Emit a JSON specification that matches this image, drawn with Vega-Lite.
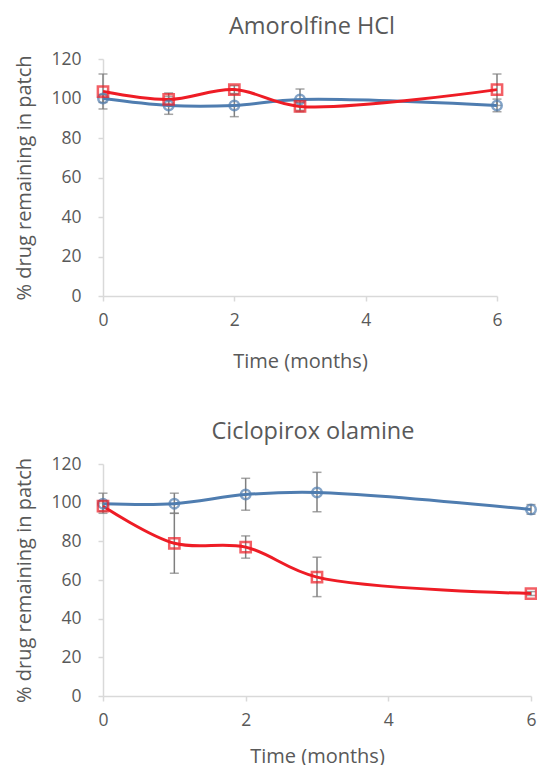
{
  "$schema": "https://vega.github.io/schema/vega-lite/v6.json",
  "padding": {"left": 14, "top": 14, "right": 0, "bottom": 0},
  "background": "white",
  "spacing": 47,
  "datasets": {
    "pts": [
      {"drug": "Amorolfine HCl", "series": "A", "t": 0, "y": 100.0, "lo": 98.0, "hi": 102.0},
      {"drug": "Amorolfine HCl", "series": "A", "t": 1, "y": 96.5, "lo": 92.0, "hi": 101.0},
      {"drug": "Amorolfine HCl", "series": "A", "t": 2, "y": 96.5, "lo": 90.8, "hi": 102.2},
      {"drug": "Amorolfine HCl", "series": "A", "t": 3, "y": 99.5, "lo": 93.3, "hi": 104.8},
      {"drug": "Amorolfine HCl", "series": "A", "t": 6, "y": 96.5, "lo": 93.3, "hi": 99.7},
      {"drug": "Amorolfine HCl", "series": "B", "t": 0, "y": 103.5, "lo": 94.7, "hi": 112.4},
      {"drug": "Amorolfine HCl", "series": "B", "t": 1, "y": 99.5, "lo": 96.5, "hi": 102.8},
      {"drug": "Amorolfine HCl", "series": "B", "t": 2, "y": 104.5, "lo": 102.5, "hi": 106.5},
      {"drug": "Amorolfine HCl", "series": "B", "t": 3, "y": 96.0, "lo": 94.0, "hi": 98.0},
      {"drug": "Amorolfine HCl", "series": "B", "t": 6, "y": 104.5, "lo": 96.5, "hi": 112.4},
      {"drug": "Ciclopirox olamine", "series": "A", "t": 0, "y": 99.5, "lo": 94.5, "hi": 104.9},
      {"drug": "Ciclopirox olamine", "series": "A", "t": 1, "y": 99.5, "lo": 94.5, "hi": 104.9},
      {"drug": "Ciclopirox olamine", "series": "A", "t": 2, "y": 104.2, "lo": 96.1, "hi": 112.6},
      {"drug": "Ciclopirox olamine", "series": "A", "t": 3, "y": 105.3, "lo": 95.3, "hi": 115.7},
      {"drug": "Ciclopirox olamine", "series": "A", "t": 6, "y": 96.5, "lo": 94.0, "hi": 99.0},
      {"drug": "Ciclopirox olamine", "series": "B", "t": 0, "y": 98.2, "lo": 95.5, "hi": 101.0},
      {"drug": "Ciclopirox olamine", "series": "B", "t": 1, "y": 79.0, "lo": 63.5, "hi": 94.5},
      {"drug": "Ciclopirox olamine", "series": "B", "t": 2, "y": 77.0, "lo": 71.3, "hi": 82.8},
      {"drug": "Ciclopirox olamine", "series": "B", "t": 3, "y": 61.5, "lo": 51.4, "hi": 71.8},
      {"drug": "Ciclopirox olamine", "series": "B", "t": 6, "y": 53.0, "lo": 52.0, "hi": 54.0}
    ]
  },
  "vconcat": [
    {
      "title": {"text": "Amorolfine HCl", "dx": 12},
      "width": 394,
      "height": 237,
      "data": {"name": "pts"},
      "transform": [{"filter": "datum.drug === 'Amorolfine HCl'"}],
      "encoding": {
        "x": {"field": "t", "type": "quantitative", "scale": {"domain": [0, 6], "nice": false}, "axis": {"values": [0, 2, 4, 6], "title": "Time (months)"}},
        "color": {"field": "series", "type": "nominal", "scale": {"domain": ["A", "B"], "range": ["#4f7db0", "#ee1c25"]}, "legend": null}
      },
      "layer": [
        {"mark": {"type": "rule", "color": "#7f7f7f", "strokeWidth": 1.5}, "encoding": {"y": {"field": "lo", "type": "quantitative", "scale": {"domain": [0, 120], "nice": false}, "axis": {"values": [0, 20, 40, 60, 80, 100, 120], "title": "% drug remaining in patch"}}, "y2": {"field": "hi"}, "color": {"value": "#7f7f7f"}}},
        {"mark": {"type": "tick", "orient": "horizontal", "color": "#7f7f7f", "size": 9, "thickness": 1.5}, "encoding": {"y": {"field": "lo", "type": "quantitative", "scale": {"domain": [0, 120], "nice": false}, "axis": {"values": [0, 20, 40, 60, 80, 100, 120], "title": "% drug remaining in patch"}}, "color": {"value": "#7f7f7f"}}},
        {"mark": {"type": "tick", "orient": "horizontal", "color": "#7f7f7f", "size": 9, "thickness": 1.5}, "encoding": {"y": {"field": "hi", "type": "quantitative", "scale": {"domain": [0, 120], "nice": false}, "axis": {"values": [0, 20, 40, 60, 80, 100, 120], "title": "% drug remaining in patch"}}, "color": {"value": "#7f7f7f"}}},
        {"mark": {"type": "line", "interpolate": "catmull-rom", "strokeWidth": 3}, "encoding": {"y": {"field": "y", "type": "quantitative", "scale": {"domain": [0, 120], "nice": false}, "axis": {"values": [0, 20, 40, 60, 80, 100, 120], "title": "% drug remaining in patch"}}}},
        {"mark": {"type": "point", "shape": "circle", "filled": false, "strokeWidth": 2.5, "size": 90}, "transform": [{"filter": "datum.series === 'A'"}], "encoding": {"y": {"field": "y", "type": "quantitative", "scale": {"domain": [0, 120], "nice": false}, "axis": {"values": [0, 20, 40, 60, 80, 100, 120], "title": "% drug remaining in patch"}}}},
        {"mark": {"type": "point", "shape": "square", "filled": false, "strokeWidth": 2.5, "size": 105}, "transform": [{"filter": "datum.series === 'B'"}], "encoding": {"y": {"field": "y", "type": "quantitative", "scale": {"domain": [0, 120], "nice": false}, "axis": {"values": [0, 20, 40, 60, 80, 100, 120], "title": "% drug remaining in patch"}}}}
      ]
    },
    {
      "title": {"text": "Ciclopirox olamine", "dx": -4},
      "width": 428,
      "height": 232,
      "data": {"name": "pts"},
      "transform": [{"filter": "datum.drug === 'Ciclopirox olamine'"}],
      "encoding": {
        "x": {"field": "t", "type": "quantitative", "scale": {"domain": [0, 6], "nice": false}, "axis": {"values": [0, 2, 4, 6], "title": "Time (months)", "titlePadding": 18}},
        "color": {"field": "series", "type": "nominal", "scale": {"domain": ["A", "B"], "range": ["#4f7db0", "#ee1c25"]}, "legend": null}
      },
      "layer": [
        {"mark": {"type": "rule", "color": "#7f7f7f", "strokeWidth": 1.5}, "encoding": {"y": {"field": "lo", "type": "quantitative", "scale": {"domain": [0, 120], "nice": false}, "axis": {"values": [0, 20, 40, 60, 80, 100, 120], "title": "% drug remaining in patch"}}, "y2": {"field": "hi"}, "color": {"value": "#7f7f7f"}}},
        {"mark": {"type": "tick", "orient": "horizontal", "color": "#7f7f7f", "size": 9, "thickness": 1.5}, "encoding": {"y": {"field": "lo", "type": "quantitative", "scale": {"domain": [0, 120], "nice": false}, "axis": {"values": [0, 20, 40, 60, 80, 100, 120], "title": "% drug remaining in patch"}}, "color": {"value": "#7f7f7f"}}},
        {"mark": {"type": "tick", "orient": "horizontal", "color": "#7f7f7f", "size": 9, "thickness": 1.5}, "encoding": {"y": {"field": "hi", "type": "quantitative", "scale": {"domain": [0, 120], "nice": false}, "axis": {"values": [0, 20, 40, 60, 80, 100, 120], "title": "% drug remaining in patch"}}, "color": {"value": "#7f7f7f"}}},
        {"mark": {"type": "line", "interpolate": "catmull-rom", "strokeWidth": 3}, "encoding": {"y": {"field": "y", "type": "quantitative", "scale": {"domain": [0, 120], "nice": false}, "axis": {"values": [0, 20, 40, 60, 80, 100, 120], "title": "% drug remaining in patch"}}}},
        {"mark": {"type": "point", "shape": "circle", "filled": false, "strokeWidth": 2.5, "size": 90}, "transform": [{"filter": "datum.series === 'A'"}], "encoding": {"y": {"field": "y", "type": "quantitative", "scale": {"domain": [0, 120], "nice": false}, "axis": {"values": [0, 20, 40, 60, 80, 100, 120], "title": "% drug remaining in patch"}}}},
        {"mark": {"type": "point", "shape": "square", "filled": false, "strokeWidth": 2.5, "size": 105}, "transform": [{"filter": "datum.series === 'B'"}], "encoding": {"y": {"field": "y", "type": "quantitative", "scale": {"domain": [0, 120], "nice": false}, "axis": {"values": [0, 20, 40, 60, 80, 100, 120], "title": "% drug remaining in patch"}}}}
      ]
    }
  ],
  "config": {
    "view": {"stroke": null},
    "font": "Open Sans",
    "axis": {
      "grid": false,
      "domainColor": "#d9d9d9",
      "domainWidth": 1.5,
      "tickColor": "#d9d9d9",
      "tickWidth": 1.5,
      "tickSize": 5,
      "labelColor": "#595959",
      "titleColor": "#595959",
      "labelFont": "Open Sans",
      "titleFont": "Open Sans",
      "labelFontSize": 17.5,
      "titleFontSize": 20,
      "titleFontWeight": "normal",
      "labelOverlap": false,
      "labelFlush": false
    },
    "axisY": {"labelPadding": 17, "titlePadding": 16},
    "axisX": {"labelPadding": 10, "titlePadding": 23},
    "title": {"font": "Open Sans", "fontSize": 23.5, "fontWeight": "normal", "color": "#595959", "offset": 12}
  }
}
